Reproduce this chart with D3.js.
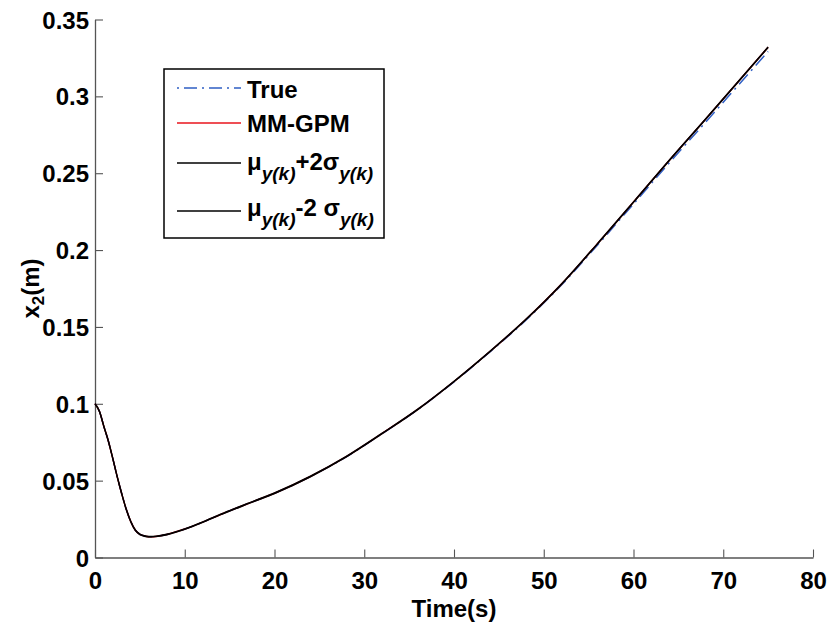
<!DOCTYPE html>
<html>
<head>
<meta charset="utf-8">
<script src="https://cdn.jsdelivr.net/npm/d3@7"></script>
<style>
  body { margin: 0; background: #fff; }
  text { font-family: "Liberation Sans", Arial, sans-serif; font-weight: bold; }
</style>
</head>
<body>
<script>
// time samples (s)
const time = [0, 0.5, 1, 1.5, 2, 2.5, 3, 3.5, 4, 4.5, 5, 5.5, 6, 7, 8, 10, 12, 14, 17, 20,
  24, 28, 32, 36, 40, 44, 48, 52, 56, 60, 64, 68, 72, 75];

// true state
const trueVals = [0.100, 0.095, 0.085, 0.0755, 0.064, 0.052, 0.041, 0.031, 0.0232, 0.0177, 0.0151, 0.0140, 0.0135, 0.0139, 0.0150, 0.0185, 0.0230, 0.0280, 0.0350, 0.0418,
  0.0527, 0.0655, 0.0806, 0.0964, 0.1143, 0.1337, 0.1543, 0.1774, 0.2033, 0.2300, 0.2569, 0.2830, 0.3094, 0.3292];

// MM-GPM prediction mean
const mmgpm = [0.100, 0.095, 0.085, 0.0755, 0.064, 0.052, 0.041, 0.031, 0.0232, 0.0177, 0.0151, 0.0140, 0.0135, 0.0139, 0.0150, 0.0185, 0.0230, 0.0280, 0.0350, 0.0418,
  0.0527, 0.0656, 0.0807, 0.0965, 0.1145, 0.1340, 0.1548, 0.1780, 0.2042, 0.2312, 0.2585, 0.2850, 0.3118, 0.3320];

// mu + 2 sigma
const upper = [0.1002, 0.0952, 0.0852, 0.0757, 0.0642, 0.0522, 0.0412, 0.0312, 0.0234, 0.0179, 0.0153, 0.0142, 0.0137, 0.0141, 0.0152, 0.0187, 0.0232, 0.0282, 0.0352, 0.0420,
  0.0529, 0.0658, 0.0809, 0.0967, 0.1147, 0.1342, 0.1550, 0.1782, 0.2044, 0.2314, 0.2587, 0.2852, 0.3120, 0.3322];

// mu - 2 sigma
const lower = [0.0998, 0.0948, 0.0848, 0.0753, 0.0638, 0.0518, 0.0408, 0.0308, 0.0230, 0.0175, 0.0149, 0.0138, 0.0133, 0.0137, 0.0148, 0.0183, 0.0228, 0.0278, 0.0348, 0.0416,
  0.0525, 0.0654, 0.0805, 0.0963, 0.1143, 0.1338, 0.1546, 0.1778, 0.2040, 0.2310, 0.2583, 0.2848, 0.3116, 0.3318];

const xTicks = [0, 10, 20, 30, 40, 50, 60, 70, 80];
const yTicks = [0, 0.05, 0.1, 0.15, 0.2, 0.25, 0.3, 0.35];

const margin = { top: 19.5, right: 18, bottom: 68.5, left: 95 };
const width = 831 - margin.left - margin.right;
const height = 626 - margin.top - margin.bottom;

const svg = d3.select('body').append('svg')
    .attr('width', 831)
    .attr('height', 626);

const g = svg.append('g')
    .attr('transform', 'translate(' + margin.left + ',' + margin.top + ')');

const xScale = d3.scaleLinear().domain([0, 80]).range([0, width]);
const yScale = d3.scaleLinear().domain([0, 0.35]).range([height, 0]);

const fmt = function(d) { return d === 0 ? '0' : String(d); };

// Axes (ticks point inward, like MATLAB)
const xAxis = g.append('g')
    .attr('transform', 'translate(0,' + height + ')')
    .call(d3.axisBottom(xScale).tickValues(xTicks).tickFormat(fmt).tickSizeInner(-8).tickSizeOuter(0).tickPadding(14));

const yAxis = g.append('g')
    .call(d3.axisLeft(yScale).tickValues(yTicks).tickFormat(fmt).tickSizeInner(-8).tickSizeOuter(0).tickPadding(6));

[xAxis, yAxis].forEach(function(a) {
  a.select('.domain').attr('stroke', '#555').attr('stroke-width', 1.3);
  a.selectAll('.tick line').attr('stroke', '#555').attr('stroke-width', 1.1);
  a.selectAll('.tick text').attr('fill', '#000').style('font-size', '24px');
});
yAxis.selectAll('.tick text').attr('dy', '0.36em');

// Lines
const makeLine = function(vals) {
  return d3.line()
    .x(function(d, i) { return xScale(time[i]); })
    .y(function(d) { return yScale(d); })
    .curve(d3.curveMonotoneX)(vals);
};

const series = [
  { name: 'True', vals: trueVals, color: '#2f5fc4', dash: '2,5,13,5', w: 1.5 },
  { name: 'MM-GPM', vals: mmgpm, color: '#e8141c', dash: null, w: 1.5 },
  { name: 'upper', vals: upper, color: '#000', dash: null, w: 1.3 },
  { name: 'lower', vals: lower, color: '#000', dash: null, w: 1.3 }
];

series.forEach(function(s) {
  g.append('path')
    .attr('d', makeLine(s.vals))
    .attr('fill', 'none')
    .attr('stroke', s.color)
    .attr('stroke-width', s.w)
    .attr('stroke-dasharray', s.dash);
});

// Axis labels
svg.append('text')
    .attr('x', margin.left + width / 2)
    .attr('y', 617)
    .attr('text-anchor', 'middle')
    .style('font-size', '24px')
    .text('Time(s)');

const yl = svg.append('text')
    .attr('transform', 'translate(39,' + (margin.top + height / 2) + ') rotate(-90)')
    .attr('text-anchor', 'middle')
    .style('font-size', '24px');
yl.append('tspan').text('x');
yl.append('tspan').attr('dy', 5).style('font-size', '17px').text('2');
yl.append('tspan').attr('dy', -5).text('(m)');

// Legend
const legend = svg.append('g');
legend.append('rect')
    .attr('x', 164).attr('y', 69)
    .attr('width', 220).attr('height', 169)
    .attr('fill', '#fff')
    .attr('stroke', '#000')
    .attr('stroke-width', 1.5);

const rows = [
  { s: series[0], ly: 88, ty: 98 },
  { s: series[1], ly: 123, ty: 132 },
  { s: series[2], ly: 163, ty: 170 },
  { s: series[3], ly: 211, ty: 216 }
];

rows.forEach(function(r) {
  legend.append('line')
    .attr('x1', 177).attr('x2', 241)
    .attr('y1', r.ly).attr('y2', r.ly)
    .attr('stroke', r.s.color)
    .attr('stroke-width', 1.5)
    .attr('stroke-dasharray', r.s.dash);
});

legend.append('text').attr('x', 247).attr('y', rows[0].ty).style('font-size', '24px').text('True');
legend.append('text').attr('x', 247).attr('y', rows[1].ty).style('font-size', '24px').text('MM-GPM');

const sigmaText = function(y, mid) {
  const t = legend.append('text').attr('x', 247).attr('y', y).style('font-size', '24px');
  t.append('tspan').text('μ');
  t.append('tspan').attr('dy', 10).style('font-size', '19px').style('font-style', 'italic').text('y(k)');
  t.append('tspan').attr('dy', -10).text(mid);
  t.append('tspan').attr('dy', 10).style('font-size', '19px').style('font-style', 'italic').text('y(k)');
};
sigmaText(rows[2].ty, '+2σ');
sigmaText(rows[3].ty, '-2 σ');
</script>
</body>
</html>
